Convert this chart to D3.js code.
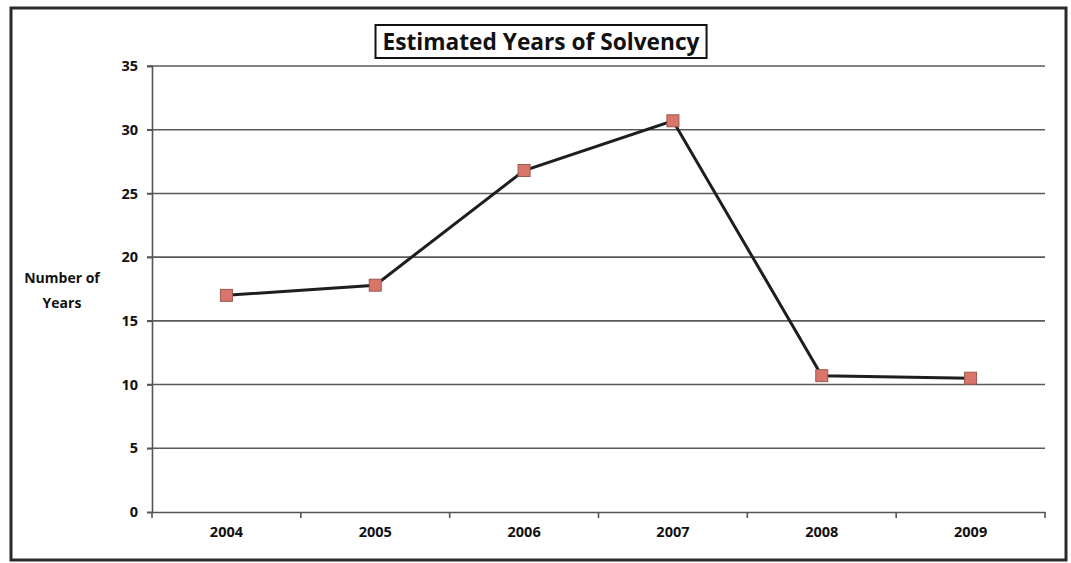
<!DOCTYPE html>
<html><head><meta charset="utf-8">
<script src="https://cdn.jsdelivr.net/npm/d3@7"></script>
<style>body{margin:0;background:#fff;} svg{display:block;}</style>
</head><body>
<svg id="chart" width="1071" height="563"></svg>
<script>
const years = ["2004","2005","2006","2007","2008","2009"];
const solvencyYears = [17.0, 17.8, 26.8, 30.7, 10.7, 10.5];
const yTicks = [0,5,10,15,20,25,30,35];
const titleText = "Estimated Years of Solvency";
const yLabelLines = ["Number of","Years"];

const svg = d3.select("#chart");
const font = "'Open Sans', Lato, sans-serif";
const L = 152, R = 1045, T = 66, B = 512;

svg.append("rect").attr("x",11).attr("y",8).attr("width",1055).attr("height",552)
  .attr("fill","#fff").attr("stroke","#2a2a2a").attr("stroke-width",3);

const x = d3.scaleBand().domain(years).range([L,R]).padding(0);
const y = d3.scaleLinear().domain([0,35]).range([B,T]);

// gridlines
svg.append("g").selectAll("line").data(yTicks.filter(d=>d>0)).join("line")
  .attr("x1",L-5).attr("x2",R).attr("y1",d=>y(d)).attr("y2",d=>y(d))
  .attr("stroke","#5a5a5a").attr("stroke-width",1.6);

// y axis
const ya = svg.append("g").attr("transform",`translate(${L},0)`)
  .call(d3.axisLeft(y).tickValues(yTicks).tickSize(5).tickPadding(9));
ya.select(".domain").attr("stroke","#555").attr("stroke-width",1.6);
ya.selectAll(".tick line").attr("stroke","#555").attr("stroke-width",1.6);
ya.selectAll("text").attr("font-family",font).attr("font-weight","bold")
  .attr("font-size",14.5).attr("fill","#111");

// x axis
const xa = svg.append("g").attr("transform",`translate(0,${B})`)
  .call(d3.axisBottom(x).tickSize(0).tickPadding(15));
xa.select(".domain").attr("stroke","#555").attr("stroke-width",1.6);
xa.selectAll("text").attr("font-family",font).attr("font-weight","bold")
  .attr("font-size",14.5).attr("fill","#111");
// category boundary ticks
const bounds = years.map(d=>x(d)).concat([R]);
svg.append("g").selectAll("line").data(bounds).join("line")
  .attr("x1",d=>d).attr("x2",d=>d).attr("y1",B).attr("y2",B+6)
  .attr("stroke","#555").attr("stroke-width",1.6);

// y label
const yl = svg.append("text").attr("text-anchor","middle").attr("font-family",font)
  .attr("font-weight","bold").attr("font-size",14).attr("fill","#111");
yLabelLines.forEach((t,i)=>yl.append("tspan").attr("x",62).attr("y",283+i*25).text(t));

// line
const cx = d=>x(d)+x.bandwidth()/2;
svg.append("path").datum(years.map((d,i)=>[cx(d),y(solvencyYears[i])]))
  .attr("d",d3.line()).attr("fill","none").attr("stroke","#1c1f1f").attr("stroke-width",3);

// markers
svg.append("g").selectAll("rect").data(years).join("rect")
  .attr("x",d=>cx(d)-6).attr("y",(d,i)=>y(solvencyYears[i])-6)
  .attr("width",12).attr("height",12).attr("fill","#d9756b")
  .attr("stroke","#9a5a50").attr("stroke-width",1);

// title
const tg = svg.append("g");
const box = tg.append("rect");
const tt = tg.append("text").attr("x",541).attr("y",50).attr("text-anchor","middle")
  .attr("font-family",font).attr("font-weight","bold").attr("font-size",22)
  .attr("fill","#111").text(titleText);
let w = tt.node().getComputedTextLength();
tt.attr("font-size", 22*317/w);
const bb = tt.node().getBBox();
box.attr("x",bb.x-7).attr("y",25).attr("width",bb.width+14).attr("height",33)
  .attr("fill","#fff").attr("stroke","#111").attr("stroke-width",2);
</script>
</body></html>
